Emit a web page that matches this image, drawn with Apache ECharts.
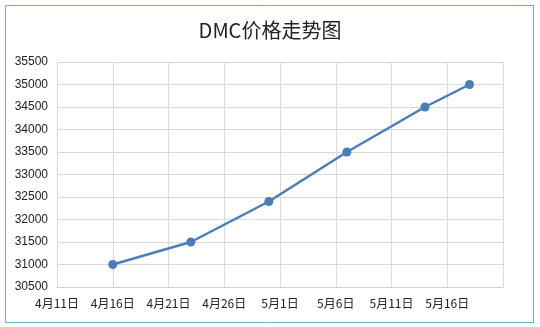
<!DOCTYPE html>
<html><head><meta charset="utf-8">
<script src="https://cdn.jsdelivr.net/npm/echarts@6/dist/echarts.min.js"></script>
<style>html,body{margin:0;padding:0;background:#fff}#c{width:540px;height:327px}</style>
</head><body><div id="c"></div>
<script>
var title = 'DMC价格走势图';
var dates = ['2024-04-16','2024-04-23','2024-04-30','2024-05-07','2024-05-14','2024-05-18'];
var prices = [31000, 31500, 32400, 33500, 34500, 35000];
var axisStart = '2024-04-11';
var axisEnd = '2024-05-21';
var yMin = 30500, yMax = 35500, yStep = 500;

var DAY = 86400000;
function dayOffset(s){ return Math.round((Date.parse(s + 'T00:00:00Z') - Date.parse(axisStart + 'T00:00:00Z')) / DAY); }
function labelFor(off){
  var d = new Date(Date.parse(axisStart + 'T00:00:00Z') + off * DAY);
  return (d.getUTCMonth() + 1) + '月' + d.getUTCDate() + '日';
}
var points = dates.map(function(d, i){ return [dayOffset(d), prices[i]]; });

var chart = echarts.init(document.getElementById('c'), null, {renderer:'canvas'});
chart.setOption({
  animation: false,
  title: {text: title, left: 'center', top: 15,
    textStyle: {fontFamily: 'Noto Sans CJK SC', fontSize: 20, fontWeight: 'normal', color: '#222'}},
  graphic: [{type: 'rect', shape: {x: 5.5, y: 5.5, width: 528, height: 317},
    style: {fill: 'none', stroke: '#62b3c2', lineWidth: 1}, silent: true, z: 100}],
  grid: {left: 57, right: 37, top: 62, bottom: 40},
  xAxis: {type: 'value', min: 0, max: dayOffset(axisEnd), interval: 5,
    axisLine: {show: true, lineStyle: {color: '#d0d0d0'}},
    axisTick: {show: false},
    splitLine: {show: true, lineStyle: {color: '#d9d9d9'}},
    axisLabel: {showMaxLabel: false, margin: 10, fontFamily: 'Noto Sans CJK SC', fontSize: 12, color: '#222',
      formatter: function(v){ return labelFor(v); }}},
  yAxis: {type: 'value', min: yMin, max: yMax, interval: yStep,
    axisLine: {show: true, lineStyle: {color: '#d9d9d9'}},
    axisTick: {show: false},
    splitLine: {show: true, lineStyle: {color: '#d9d9d9'}},
    axisLabel: {margin: 9, fontFamily: 'Liberation Sans', fontSize: 12, color: '#222',
      formatter: function(v){ return String(v); }}},
  series: [{type: 'line', data: points, symbol: 'circle', symbolSize: 9,
    lineStyle: {color: '#4a7ebb', width: 2.5}, itemStyle: {color: '#4a7ebb'}}]
});
</script></body></html>
